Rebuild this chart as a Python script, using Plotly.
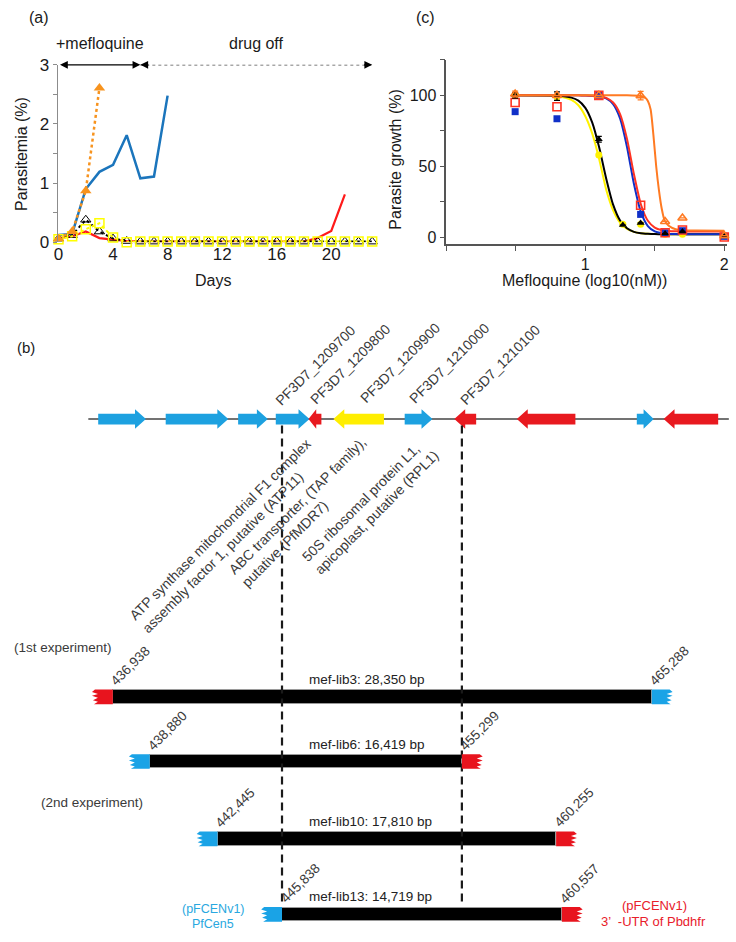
import plotly.graph_objects as go

W, H = 736, 942
FONT = "Liberation Sans, Arial, sans-serif"

# ---------------- panel (a): parasitemia time course ----------------
days_a = list(range(0, 24))
blue_a = [0.12, 0.14, 0.90, 1.19, 1.31, 1.81, 1.08, 1.11, 2.48]
orange_a = [0.06, 0.18, 0.87, 2.61]
red_a = [0.07, 0.10, 0.18, 0.07, 0.045, 0.02, 0.01, 0.01, 0.01, 0.01, 0.01,
         0.01, 0.01, 0.01, 0.01, 0.01, 0.01, 0.01, 0.01, 0.07, 0.19, 0.81]
black_a = [0.06, 0.12, 0.38, 0.18, 0.06, 0.02, 0.01, 0.01, 0.01, 0.01, 0.01, 0.01,
           0.01, 0.01, 0.01, 0.01, 0.01, 0.01, 0.01, 0.01, 0.01, 0.01, 0.01, 0.01]
yellow_a = [0.05, 0.10, 0.22, 0.32, 0.08, 0.00, 0.01, 0.01, 0.01, 0.01, 0.01, 0.01,
            0.01, 0.01, 0.01, 0.01, 0.01, 0.01, 0.01, 0.01, 0.01, 0.01, 0.01, 0.01]
phase_days = [0, 6, 23]
a_yticks = [0, 0.5, 1, 1.5, 2, 2.5, 3]
a_yticktext = ["0", "", "1", "", "2", "", "3"]
a_xticks = [0, 4, 8, 12, 16, 20]

# ---------------- panel (c): dose response ----------------
conc_c = [0.495, 0.796, 1.097, 1.27, 1.398, 1.574, 1.699, 2.0]
yellow_c = [100, 99, 58, 9, 9, 2, 2, 1]
black_c = [100, 99.5, 69, 8.5, 10, 2.5, 4, 0.5]
blue_c = [88.5, 83.5, 100, None, 16, 3, 4.5, 0.5]
red_c = [95, 92, 100, None, 22.5, 3, 5, 0]
orange_c = [101, 100, 100, None, 99.8, 11, 13.5, 1]
black_err = [2, 3, 2, 0, 0, 0, 0, 0]
orange_err = [2, 0, 0, 0, 3, 0, 0, 0]

fit_x = [0.5, 0.8, 0.9, 0.95, 1.0, 1.05, 1.1, 1.15, 1.2, 1.25, 1.3, 1.35, 1.4,
         1.45, 1.5, 1.55, 1.6, 1.65, 1.7, 1.8, 2.0]
fit_black = [100, 99.7, 98.4, 96.3, 91.2, 80.8, 63.2, 41.4, 22.9, 11.7, 6.2, 3.7, 2.7,
             2.3, 2.1, 2.0, 2.0, 2.0, 2.0, 2.0, 2.0]
fit_yellow = [100, 99.4, 96.8, 93.0, 85.3, 73.0, 55.0, 33.6, 18.9, 10.2, 5.8, 3.7, 2.7,
              2.3, 2.2, 2.1, 2.0, 2.0, 2.0, 2.0, 2.0]
fit_blue = [100, 100, 100, 100, 99.9, 99.7, 99.3, 97.9, 93.9, 83.8, 63.6, 37.4, 17.6,
            7.8, 4.0, 2.7, 2.2, 2.1, 2.0, 2.0, 2.0]
fit_red = [100, 100, 100, 100, 99.9, 99.8, 99.4, 98.2, 95.0, 86.8, 69.3, 44.3, 23.0,
           11.5, 6.7, 4.9, 4.3, 4.1, 4.0, 4.0, 4.0]
fit_orange_x = [0.5, 0.8, 1.1, 1.3, 1.4, 1.43, 1.45, 1.47, 1.49, 1.51, 1.53, 1.55,
                1.57, 1.6, 1.65, 1.7, 1.8, 2.0]
fit_orange = [100, 100, 100, 100, 99.5, 98.5, 96, 90, 72, 50, 33, 20, 12, 8, 5.5, 4.8, 4.6, 4.5]
c_xticks = [0, 0.5, 1, 1.5, 2]
c_xticktext = ["", "", "1", "", "2"]
c_yticks = [0, 25, 50, 75, 100, 125]
c_yticktext = ["0", "", "50", "", "100", ""]

# ---------------- panel (b): genomic region (bp) ----------------
chrom_span = [435650, 469340]
gene_start = [436170, 439720, 443530, 445510, 447230, 448540, 452290, 454900, 458190, 464500, 465910]
gene_end = [438680, 443010, 445090, 447280, 447910, 451200, 453750, 456050, 461270, 465390, 468780]
gene_strand = ["+", "+", "+", "+", "-", "-", "+", "-", "-", "+", "-"]
gene_kind = ["b", "b", "b", "b", "r", "y", "b", "r", "r", "b", "r"]
gene_ids = ["PF3D7_1209700", "PF3D7_1209800", "PF3D7_1209900", "PF3D7_1210000", "PF3D7_1210100"]
gene_desc = ["ATP synthase mitochondrial F1 complex<br>assembly factor 1, putative (ATP11)",
             "ABC transporter, (TAP family),<br>putative (PfMDR7)",
             "50S ribosomal protein L1,<br>apicoplast, putative (RPL1)"]
lib_names = ["mef-lib3", "mef-lib6", "mef-lib10", "mef-lib13"]
lib_start = [436938, 438880, 442445, 445838]
lib_end = [465288, 455299, 460255, 460557]
lib_left_end = ["r", "b", "b", "b"]
lib_right_end = ["b", "r", "r", "r"]

# ---------------- styling / layout constants ----------------
X3_MIN, X3_MAX = 431215, 469612
BP_PER_PX = (X3_MAX - X3_MIN) / W
GENE_ROW = 418.5
LIB_ROWS = [702, 768, 847, 924]
GENE_COL = {"b": "#1DA1E0", "r": "#E8191F", "y": "#FFEE00"}
CAP_COL = {"r": "#E8141E", "b": "#1AA3E6"}

def fx(p):
    return p / W

def fy(p):
    return 1 - p / H

fig = go.Figure()

# ---- panel (a) traces
CA = dict(blue="#1B75BC", orange="#F7931E", red="#FF1A1A", black="#000000", yellow="#FFFF00")
fig.add_trace(go.Scatter(x=days_a[:len(blue_a)], y=blue_a, mode="lines",
                         line=dict(color=CA["blue"], width=2.5), xaxis="x", yaxis="y", cliponaxis=False))
fig.add_trace(go.Scatter(x=days_a[:len(red_a)], y=red_a, mode="lines",
                         line=dict(color=CA["red"], width=2.2), xaxis="x", yaxis="y", cliponaxis=False))
fig.add_trace(go.Scatter(x=days_a, y=black_a, mode="lines+markers",
                         line=dict(color=CA["black"], width=2, dash="dot"),
                         marker=dict(symbol="triangle-up-open", size=9, color="black", line=dict(width=1)),
                         xaxis="x", yaxis="y", cliponaxis=False))
fig.add_trace(go.Scatter(x=days_a, y=yellow_a, mode="lines+markers",
                         line=dict(color=CA["yellow"], width=2, dash="dot"),
                         marker=dict(symbol="square-open", size=9, color=CA["yellow"], line=dict(width=1.5)),
                         xaxis="x", yaxis="y", cliponaxis=False))
fig.add_trace(go.Scatter(x=days_a[:len(orange_a)], y=orange_a, mode="lines+markers",
                         line=dict(color=CA["orange"], width=2.5, dash="dot"),
                         marker=dict(symbol="triangle-up", size=10, color=CA["orange"]),
                         xaxis="x", yaxis="y", cliponaxis=False))
# dashed "drug off" segment
fig.add_trace(go.Scatter(x=[phase_days[1], phase_days[2]], y=[3, 3], mode="lines",
                         line=dict(color="black", width=1, dash="3px,3px"),
                         xaxis="x", yaxis="y", cliponaxis=False))

# ---- panel (c) traces
CC = dict(yellow="#FFF200", black="#000000", blue="#1030C8", red="#FF3322", orange="#FF7A22")
for fy_, col in [(fit_yellow, CC["yellow"]), (fit_black, CC["black"]), (fit_blue, CC["blue"]),
                 (fit_red, CC["red"])]:
    fig.add_trace(go.Scatter(x=fit_x, y=fy_, mode="lines", line=dict(color=col, width=2, shape="spline", smoothing=0.6),
                             xaxis="x2", yaxis="y2"))
fig.add_trace(go.Scatter(x=fit_orange_x, y=fit_orange, mode="lines",
                         line=dict(color=CC["orange"], width=2, shape="spline", smoothing=0.6),
                         xaxis="x2", yaxis="y2"))
fig.add_trace(go.Scatter(x=conc_c, y=yellow_c, mode="markers",
                         marker=dict(symbol="circle", size=7, color=CC["yellow"]), xaxis="x2", yaxis="y2", cliponaxis=False))
fig.add_trace(go.Scatter(x=conc_c, y=blue_c, mode="markers",
                         marker=dict(symbol="square", size=7, color=CC["blue"]), xaxis="x2", yaxis="y2", cliponaxis=False))
fig.add_trace(go.Scatter(x=conc_c, y=red_c, mode="markers",
                         marker=dict(symbol="square-open", size=8, color=CC["red"], line=dict(width=1.6)),
                         xaxis="x2", yaxis="y2", cliponaxis=False))
fig.add_trace(go.Scatter(x=conc_c, y=black_c, mode="markers",
                         error_y=dict(type="data", array=black_err, color="black", thickness=1.2, width=3),
                         marker=dict(symbol="triangle-up", size=7, color="black"), xaxis="x2", yaxis="y2", cliponaxis=False))
fig.add_trace(go.Scatter(x=conc_c, y=orange_c, mode="markers",
                         error_y=dict(type="data", array=orange_err, color=CC["orange"], thickness=1.2, width=3),
                         marker=dict(symbol="triangle-up-open", size=8, color=CC["orange"], line=dict(width=1.6)),
                         xaxis="x2", yaxis="y2", cliponaxis=False))

# ---- panel (b) traces
fig.add_trace(go.Scatter(x=chrom_span, y=[GENE_ROW, GENE_ROW], mode="lines",
                         line=dict(color="#444444", width=1.5), xaxis="x3", yaxis="y3"))

HEAD_BP = 11 * BP_PER_PX
BH, HH = 5.5, 10
for s, e, st, k in zip(gene_start, gene_end, gene_strand, gene_kind):
    hl = min(HEAD_BP, 0.6 * (e - s))
    c = GENE_ROW
    if st == "+":
        xs = [s, e - hl, e - hl, e, e - hl, e - hl, s, s]
    else:
        xs = [e, s + hl, s + hl, s, s + hl, s + hl, e, e]
    ys = [c - BH, c - BH, c - HH, c, c + HH, c + BH, c + BH, c - BH]
    fig.add_trace(go.Scatter(x=xs, y=ys, mode="lines", fill="toself", fillcolor=GENE_COL[k],
                             line=dict(width=0, color=GENE_COL[k]), xaxis="x3", yaxis="y3"))

# dashed lines: minimal shared region
core_left, core_right = max(lib_start), min(lib_end)
for xv in [core_left, core_right]:
    fig.add_trace(go.Scatter(x=[xv, xv], y=[425, 913], mode="lines",
                             line=dict(color="#1a1a1a", width=2.2, dash="8px,5px"), xaxis="x3", yaxis="y3"))

fig.add_trace(go.Bar(orientation="h", base=lib_start, x=[e - s for s, e in zip(lib_start, lib_end)],
                     y=LIB_ROWS, width=14, marker=dict(color="black", line=dict(color="#9a9a9a", width=1)),
                     xaxis="x3", yaxis="y3"))

CAP_BP = 21 * BP_PER_PX
profile = [(3, -7.5), (0, -5), (6, -3), (0, -1), (6, 1), (1, 3.5), (6, 5), (2, 7.5)]
def add_cap(edge, side, yc, col):
    outer = edge + side * CAP_BP
    xs = [edge] + [outer - side * ins * BP_PER_PX for ins, dy in profile] + [edge, edge]
    ys = [yc - 7.5] + [yc + dy for ins, dy in profile] + [yc + 7.5, yc - 7.5]
    fig.add_trace(go.Scatter(x=xs, y=ys, mode="lines", fill="toself", fillcolor=col,
                             line=dict(width=0, color=col), xaxis="x3", yaxis="y3"))

for s, e, yc, lk, rk in zip(lib_start, lib_end, LIB_ROWS, lib_left_end, lib_right_end):
    add_cap(s, -1, yc, CAP_COL[lk])
    add_cap(e, 1, yc, CAP_COL[rk])

# ---------------- annotations ----------------
ann = []
TXT_A = "#1a1a1a"
TXT_B = "#3a3a3a"

def T(text, x, y, size, color=TXT_A, angle=0, xa="center", ya="middle", align="center", xref="paper", yref="paper", **kw):
    d = dict(text=text, x=x, y=y, xref=xref, yref=yref, showarrow=False, textangle=angle,
             xanchor=xa, yanchor=ya, align=align, font=dict(family=FONT, size=size, color=color))
    d.update(kw)
    ann.append(d)

T("(a)", fx(35), fy(9), 16)
T("(c)", fx(425), fy(9), 16)
T("(b)", fx(22), fy(345), 15)
T("+mefloquine", fx(97), fy(35), 16)
T("drug off", fx(255), fy(35), 16)
T("Parasitemia (%)", fx(17), fy(148), 16, angle=-90)
T("Days", fx(211), fy(277), 16)
T("Parasite growth (%)", fx(395), fy(153), 16, angle=-90)
T("Mefloquine (log10(nM))", fx(585), fy(277), 16)

# phase arrows
ann.append(dict(x=phase_days[1], y=3, ax=phase_days[0], ay=3, xref="x", yref="y", axref="x", ayref="y",
                showarrow=True, arrowhead=2, startarrowhead=2, arrowside="end+start", arrowsize=1.3,
                startarrowsize=1.3, arrowwidth=1.2, arrowcolor="black", text=""))
ann.append(dict(x=phase_days[1], y=3, ax=phase_days[1] + 0.7, ay=3, xref="x", yref="y", axref="x", ayref="y",
                showarrow=True, arrowhead=2, arrowsize=1.3, arrowwidth=1.2, arrowcolor="black", text=""))
ann.append(dict(x=phase_days[2], y=3, ax=phase_days[2] - 0.7, ay=3, xref="x", yref="y", axref="x", ayref="y",
                showarrow=True, arrowhead=2, arrowsize=1.3, arrowwidth=1.2, arrowcolor="black", text=""))

# gene ids
for gid, (cx, cy) in zip(gene_ids, [(314, 363), (349, 362), (399, 361), (449, 361), (500, 363)]):
    T(gid, fx(cx), fy(cy), 14, TXT_B, angle=-45)
for d, (cx, cy) in zip(gene_desc, [(224, 538), (302, 513), (369, 507)]):
    T(d, fx(cx), fy(cy), 14, TXT_B, angle=-45, align="left")

T("(1st experiment)", fx(8), fy(652), 13.5, TXT_B, xa="left")
T("(2nd experiment)", fx(35), fy(810), 13.5, TXT_B, xa="left")

for name, s, e, yc in zip(lib_names, lib_start, lib_end, LIB_ROWS):
    T(f"{name}: {e - s:,} bp", fx(305), yc, 13.5, "#222222", xa="left", yref="y3", yshift=17.5)
    T(f"{s:,}", s, yc, 13.5, TXT_B, angle=-45, xref="x3", yref="y3", xshift=18, yshift=31)
    T(f"{e:,}", e, yc, 13.5, TXT_B, angle=-45, xref="x3", yref="y3", xshift=18, yshift=31)

T("(pFCENv1)", fx(211), fy(919), 12.5, "#29A8E0")
T("PfCen5", fx(211), fy(934), 12.5, "#29A8E0")
T("(pFCENv1)", fx(656), fy(915), 13, "#E8202A")
T("3’  -UTR of Pbdhfr", fx(655), fy(931), 13, "#E8202A")

fig.update_layout(
    width=W, height=H, margin=dict(l=0, r=0, t=0, b=0),
    paper_bgcolor="white", plot_bgcolor="rgba(0,0,0,0)", showlegend=False,
    font=dict(family=FONT, color=TXT_A),
    annotations=ann,
    xaxis=dict(domain=[fx(54), fx(380)], range=[-0.07, 23.64], anchor="y", showline=False,
               showgrid=False, zeroline=False, ticks="", tickvals=a_xticks,
               tickfont=dict(size=17, color=TXT_A)),
    yaxis=dict(domain=[fy(238), fy(57)], range=[0, 3], anchor="x", showline=True, linecolor="#8c8c8c",
               linewidth=1, ticks="outside", ticklen=4, tickcolor="#8c8c8c", tickvals=a_yticks,
               ticktext=a_yticktext, showgrid=False, zeroline=False, tickfont=dict(size=17, color=TXT_A)),
    xaxis2=dict(domain=[fx(446), fx(729)], range=[0, 2.02], anchor="y2", showline=True, linecolor="#555555",
                linewidth=1.5, ticks="outside", ticklen=5, tickcolor="#555555", tickvals=c_xticks,
                ticktext=c_xticktext, showgrid=False, zeroline=False, tickfont=dict(size=16, color=TXT_A)),
    yaxis2=dict(domain=[fy(240), fy(52)], range=[-5, 125], anchor="x2", showline=True, linecolor="#555555",
                linewidth=1.5, ticks="outside", ticklen=5, tickcolor="#555555", tickvals=c_yticks,
                ticktext=c_yticktext, showgrid=False, zeroline=False, tickfont=dict(size=16, color=TXT_A)),
    xaxis3=dict(domain=[0, 1], range=[X3_MIN, X3_MAX], anchor="y3", visible=False),
    yaxis3=dict(domain=[0, 1], range=[H, 0], anchor="x3", visible=False),
    bargap=0,
)

fig.write_html("out.html", config={"displayModeBar": False},
               post_script="document.body.style.margin='0';document.body.style.padding='0';"
                           "document.documentElement.style.overflow='hidden';")
